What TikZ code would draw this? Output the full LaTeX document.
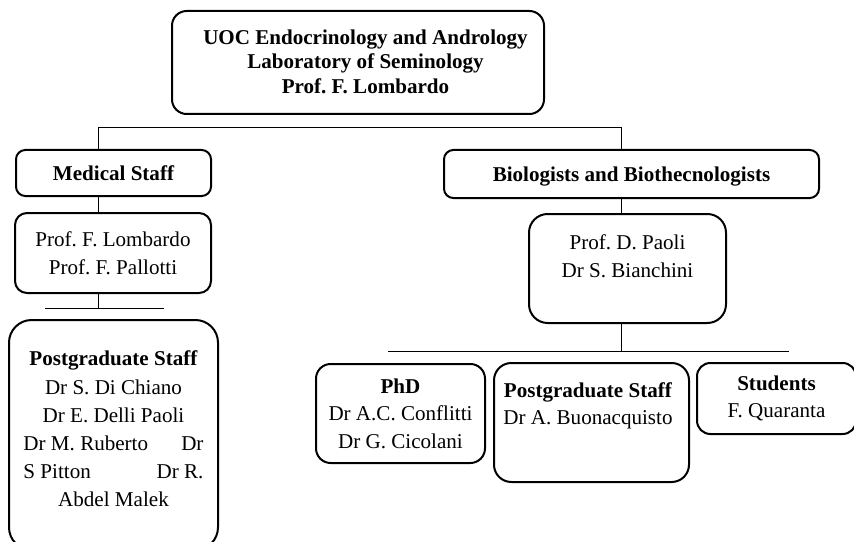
\documentclass[tikz,border=0pt]{standalone}
\usepackage{fontspec}
\setmainfont{Liberation Serif}
\frenchspacing
\tikzset{
	unit/.style={draw, line width=1.5pt, rounded corners=9pt, inner sep=0pt, align=center},
	names/.style={align=center},
	link/.style={line width=0.75pt},
}
\begin{document}
\begin{tikzpicture}[x=0.75pt,y=-0.75pt,font=\fontsize{15.8}{20.6}\selectfont]
		\clip (0,0) rectangle (854,542);
		
		\node[unit, minimum width=279pt, minimum height=77.25pt, rounded corners=11pt] (uoc) at (358,62.5) {};
		\node[names, font=\fontsize{15.8}{18.4}\selectfont\bfseries] (uoctxt) at (365.5,61.5) {UOC Endocrinology and Andrology\\Laboratory of Seminology\\Prof. F. Lombardo};
		
		\node[unit, minimum width=146.25pt, minimum height=34.5pt, rounded corners=7pt, font=\fontsize{15.8}{20.6}\selectfont\bfseries] (med) at (113.5,173) {Medical Staff};
		\node[unit, minimum width=147pt, minimum height=60pt] (lomb) at (113,253) {Prof. F. Lombardo\\Prof. F. Pallotti};
		\node[unit, minimum width=156.75pt, minimum height=172.5pt, rounded corners=17pt] (post) at (113.5,435) {};
		\node[names, font=\fontsize{15.8}{21.1}\selectfont] (posttxt) at (113.5,429) {\textbf{Postgraduate Staff}\\Dr S. Di Chiano\\Dr E. Delli Paoli\\\makebox[135pt]{Dr M. Ruberto\hfill Dr}\\\makebox[135pt]{S Pitton\hfill Dr R.}\\Abdel Malek};
		
		\node[unit, minimum width=281.25pt, minimum height=36pt, rounded corners=7pt, text depth=0pt, font=\fontsize{15.8}{20.6}\selectfont\bfseries] (bio) at (631.5,174) {Biologists and Biothecnologists};
		\node[unit, minimum width=147.75pt, minimum height=81.75pt, rounded corners=14pt] (paoli) at (627.5,268.5) {};
		\node[names] (paolitxt) at (627.5,256) {Prof. D. Paoli\\Dr S. Bianchini};
		
		\node[unit, minimum width=126.75pt, minimum height=74.25pt, rounded corners=11pt] (phd) at (400.5,413.5) {\textbf{PhD}\\Dr A.C. Conflitti\\Dr G. Cicolani};
		\node[unit, minimum width=146.25pt, minimum height=89.25pt, rounded corners=13pt] (post2) at (591.5,422.5) {};
		\node[names] (post2txt) at (588,406) {\textbf{Postgraduate Staff}\\Dr A. Buonacquisto};
		\node[unit, minimum width=119.25pt, minimum height=53.25pt, rounded corners=10pt] (stud) at (776.5,398.5) {\textbf{Students}\\F. Quaranta};
		
		\coordinate (jl) at (98,128);
		\coordinate (jr) at (621,128);
		\coordinate (stubl) at (45,308);
		\coordinate (stubr) at (164,308);
		\coordinate (barl) at (388,351);
		\coordinate (barr) at (789,351);
		
		\draw[link] (jl |- med.north) -- (jl) -- (jr) -- (jr |- bio.north);
		\draw[link] (jl |- med.south) -- (jl |- lomb.north);
		\draw[link] (jl |- lomb.south) -- (jl |- stubl);
		\draw[link] (stubl) -- (stubr);
		\draw[link] (jr |- bio.south) -- (jr |- paoli.north);
		\draw[link] (jr |- paoli.south) -- (jr |- barl);
		\draw[link] (barl) -- (barr);
\end{tikzpicture}
\end{document}
